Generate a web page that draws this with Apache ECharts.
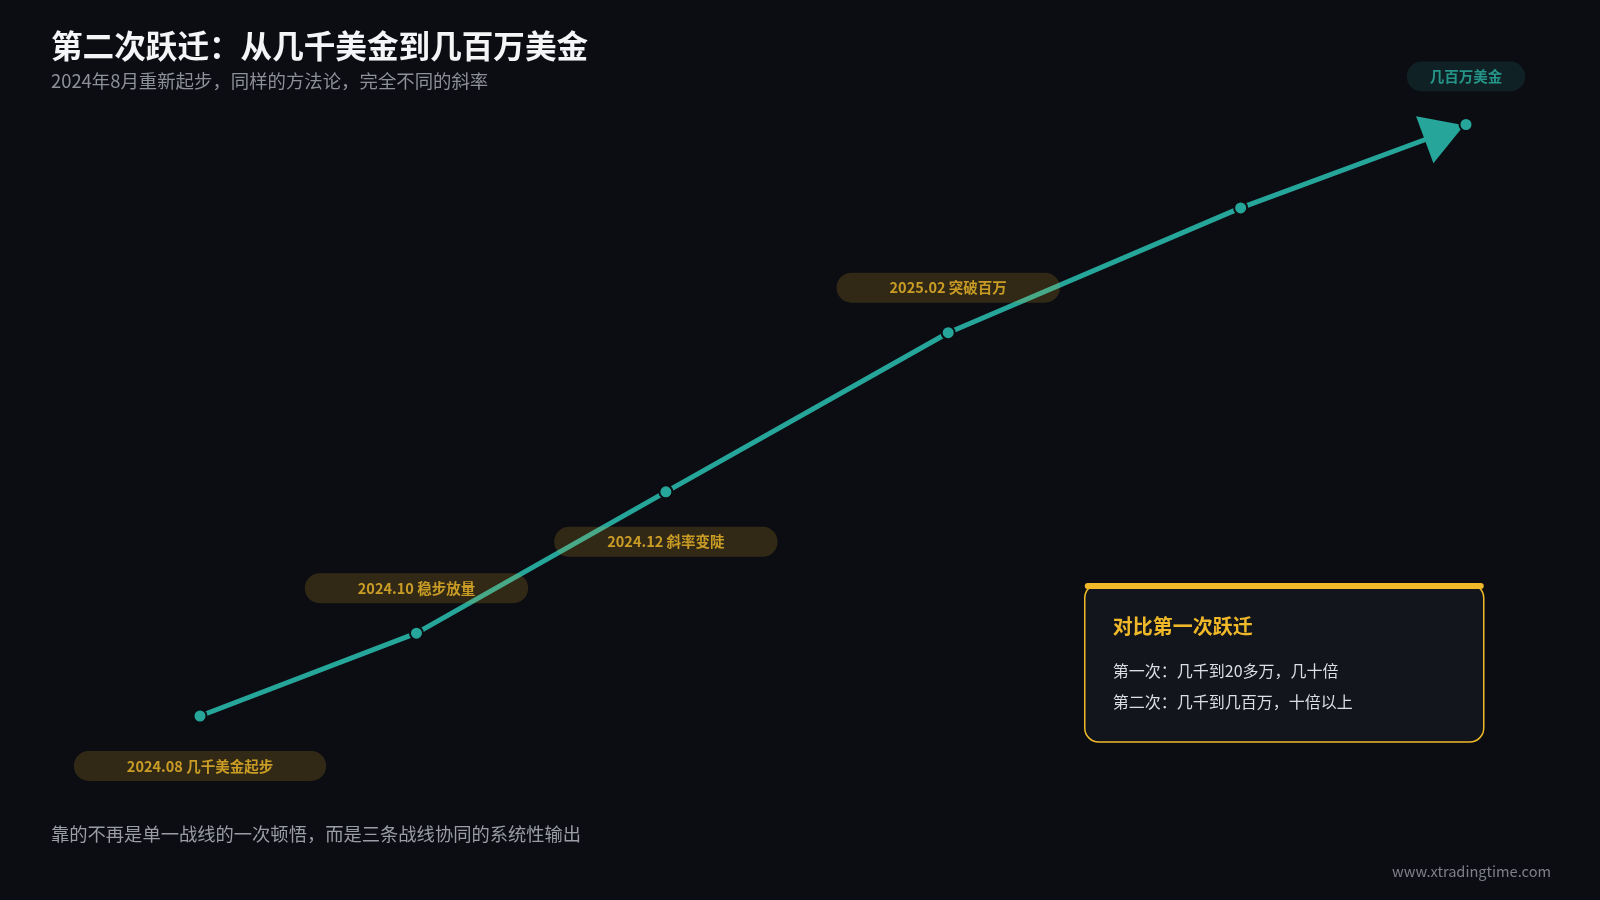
<!DOCTYPE html>
<html><head><meta charset="utf-8">
<script src="https://cdn.jsdelivr.net/npm/echarts@6/dist/echarts.min.js"></script>
<style>html,body{margin:0;padding:0;background:#0c0d12;}#c{width:1600px;height:900px;}</style>
</head><body><div id="c"></div>
<script>
// ---- data ----
const stageLabels = ['2024.08 几千美金起步', '2024.10 稳步放量', '2024.12 斜率变陡', '2025.02 突破百万', '', '几百万美金'];
const progressX = [0, 17.1, 36.8, 59.1, 82.2, 100];
const levelY = [0, 14.0, 37.9, 64.8, 85.9, 100];
const labelSide = ['below', 'above', 'below', 'above', 'none', 'end'];
const titleText = '第二次跃迁：从几千美金到几百万美金';
const subtitleText = '2024年8月重新起步，同样的方法论，完全不同的斜率';
const footerText = '靠的不再是单一战线的一次顿悟，而是三条战线协同的系统性输出';
const sourceText = 'www.xtradingtime.com';
const cardTitle = '对比第一次跃迁';
const cardLines = ['第一次：几千到20多万，几十倍', '第二次：几千到几百万，十倍以上'];

// ---- styles ----
const FONT = '"Noto Sans CJK SC", "Noto Sans", sans-serif';
const BG = '#0c0d12';
const TEAL = '#26a69a';
const GOLD = '#f0b92a';

const points = progressX.map((x, i) => [x, levelY[i]]);

const labelData = [];
points.forEach((p, i) => {
  const side = labelSide[i];
  if (side === 'none') return;
  const isEnd = side === 'end';
  labelData.push({
    value: p,
    label: {
      show: true,
      position: 'inside',
      offset: [0, side === 'below' ? 50 : (side === 'above' ? -45 : -48)],
      formatter: stageLabels[i],
      color: isEnd ? '#2bb3a3' : GOLD,
      fontSize: 14.5,
      fontWeight: 'bold',
      fontFamily: FONT,
      lineHeight: 14,
      backgroundColor: isEnd ? 'rgba(38,166,154,0.17)' : 'rgba(240,185,42,0.21)',
      borderRadius: 16,
      padding: isEnd ? [8, 23] : [8, 53]
    }
  });
});

const chart = echarts.init(document.getElementById('c'), null, {renderer: 'canvas'});

const option = {
  backgroundColor: BG,
  animation: false,
  grid: {left: 200, right: 134, top: 124.5, bottom: 184},
  xAxis: {type: 'value', min: 0, max: 100, show: false},
  yAxis: {type: 'value', min: 0, max: 100, show: false},
  series: [
    {
      id: 'arrow',
      type: 'scatter',
      z: 1,
      silent: true,
      data: [points[points.length - 1]],
      symbol: 'triangle',
      symbolSize: [50, 42],
      itemStyle: {color: TEAL, opacity: 1}
    },
    {
      type: 'line',
      z: 2,
      silent: true,
      data: points,
      lineStyle: {color: TEAL, width: 5},
      symbol: 'circle',
      symbolSize: 13,
      showAllSymbol: true,
      itemStyle: {color: TEAL, borderColor: BG, borderWidth: 2}
    },
    {
      type: 'scatter',
      z: 5,
      silent: true,
      data: labelData,
      symbolSize: 1,
      itemStyle: {color: 'rgba(0,0,0,0)'}
    }
  ],
  graphic: [
    {type: 'text', left: 51, top: 30, style: {text: titleText, fill: '#f4f5f7', font: 'bold 31.6px ' + FONT}},
    {type: 'text', left: 51, top: 72, style: {text: subtitleText, fill: '#8d9098', font: '18.4px ' + FONT}},
    {type: 'text', left: 51, top: 825, style: {text: footerText, fill: '#9a9da5', font: '18.3px ' + FONT}},
    {type: 'text', right: 49, top: 864, style: {text: sourceText, fill: '#7d8088', font: '14.6px ' + FONT}},
    {
      type: 'group', left: 1084, top: 583,
      children: [
        {type: 'rect', shape: {x: 0, y: 0, width: 399, height: 158, r: 14},
         style: {fill: '#12151c', stroke: GOLD, lineWidth: 1.5}},
        {type: 'rect', shape: {x: 0, y: -1, width: 399, height: 6, r: 3},
         style: {fill: GOLD}},
        {type: 'text', x: 28, y: 42, style: {text: cardTitle, fill: GOLD, font: 'bold 20px ' + FONT, verticalAlign: 'middle'}},
        {type: 'text', x: 28, y: 87, style: {text: cardLines[0], fill: '#dcdee3', font: '16px ' + FONT, verticalAlign: 'middle'}},
        {type: 'text', x: 28, y: 118, style: {text: cardLines[1], fill: '#dcdee3', font: '16px ' + FONT, verticalAlign: 'middle'}}
      ]
    }
  ]
};

chart.setOption(option);

// orient the arrow head along the last segment
const n = points.length;
const pa = chart.convertToPixel({gridIndex: 0}, points[n - 2]);
const pb = chart.convertToPixel({gridIndex: 0}, points[n - 1]);
const ang = Math.atan2(pa[1] - pb[1], pb[0] - pa[0]);
const back = 21 + 2;
chart.setOption({
  series: [{id: 'arrow', symbolRotate: ang * 180 / Math.PI - 90,
            symbolOffset: [-Math.cos(ang) * back, Math.sin(ang) * back]}]
});
</script>
</body></html>
